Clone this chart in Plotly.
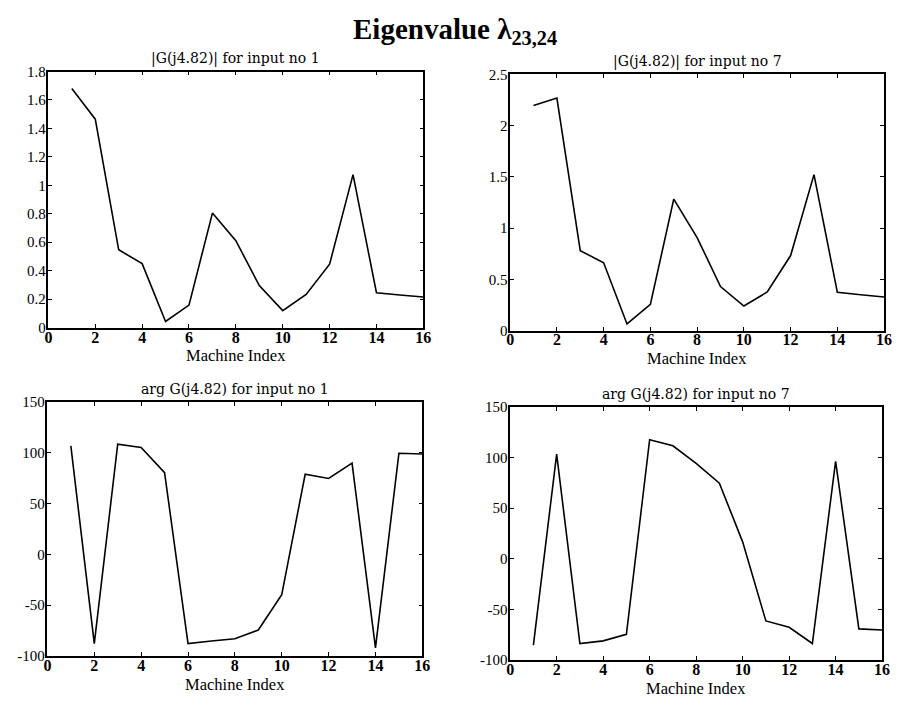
import plotly.graph_objects as go

# Machine indices shared by all four panels
machine_index = list(range(1, 17))

# |G(j4.82)| magnitudes
mag_input1 = [1.68, 1.465, 0.547, 0.45, 0.043, 0.158, 0.805, 0.611,
              0.295, 0.119, 0.233, 0.446, 1.075, 0.245, 0.229, 0.215]
mag_input7 = [2.197, 2.27, 0.78, 0.662, 0.064, 0.255, 1.283, 0.908,
              0.43, 0.239, 0.376, 0.732, 1.522, 0.373, 0.35, 0.328]

# arg G(j4.82) phases in degrees
arg_input1 = [106.7, -87.8, 108.3, 105.1, 80.4, -87.8, -85.3, -83.0,
              -74.4, -39.7, 78.8, 74.7, 89.7, -92.0, 99.4, 98.7]
arg_input7 = [-85.4, 103.2, -83.8, -81.2, -74.8, 117.5, 111.5, 94.0,
              74.5, 16.6, -61.5, -67.8, -83.8, 96.2, -69.4, -70.4]

x_ticks = [0, 2, 4, 6, 8, 10, 12, 14, 16]
mag1_ticks = [0, 0.2, 0.4, 0.6, 0.8, 1, 1.2, 1.4, 1.6, 1.8]
mag1_labels = ["0", "0.2", "0.4", "0.6", "0.8", "1", "1.2", "1.4", "1.6", "1.8"]
mag7_ticks = [0, 0.5, 1, 1.5, 2, 2.5]
mag7_labels = ["0", "0.5", "1", "1.5", "2", "2.5"]
arg_ticks = [-100, -50, 0, 50, 100, 150]
arg_labels = ["-100", "-50", "0", "50", "100", "150"]

panel_titles = ["|G(j4.82)| for input no 1", "|G(j4.82)| for input no 7",
                "arg G(j4.82) for input no 1", "arg G(j4.82) for input no 7"]
x_label = "Machine Index"

W, H = 899, 707
TIMES = "Liberation Serif"
WIDE_SERIF = "DejaVu Serif"

# panel boxes in pixels: (left, right, top, bottom)
boxes = [(45, 425, 65, 327), (513, 892, 68, 330),
         (44, 424, 403, 663), (513, 890, 408, 667)]

panels = [
    (mag_input1, [0, 1.8], mag1_ticks, mag1_labels),
    (mag_input7, [0, 2.5], mag7_ticks, mag7_labels),
    (arg_input1, [-100, 150], arg_ticks, arg_labels),
    (arg_input7, [-100, 150], arg_ticks, arg_labels),
]

fig = go.Figure()
layout = dict(
    width=W, height=H, autosize=False,
    margin=dict(l=0, r=0, t=0, b=0),
    paper_bgcolor="white", plot_bgcolor="white",
    showlegend=False,
    font=dict(family=TIMES, color="black"),
)
annotations = []

for i, ((yvals, yrange, yt, yl), (l, r, t, b), title) in enumerate(zip(panels, boxes, panel_titles)):
    n = "" if i == 0 else str(i + 1)
    xa, ya = "x" + n, "y" + n
    fig.add_trace(go.Scatter(
        x=machine_index, y=yvals, mode="lines",
        line=dict(color="black", width=1.6),
        xaxis=xa, yaxis=ya, hoverinfo="skip",
    ))
    axis_common = dict(
        showline=True, linecolor="black", linewidth=1.5, mirror="ticks",
        ticks="inside", ticklen=4, tickcolor="black", tickwidth=1,
        showgrid=False, zeroline=False,
    )
    layout["xaxis" + n] = dict(
        domain=[l / W, r / W], anchor=ya, range=[0, 16],
        tickmode="array", tickvals=x_ticks,
        tickfont=dict(family=TIMES, size=16, color="black", weight="bold"),
        ticklabelstandoff=-6,
        **axis_common,
    )
    layout["yaxis" + n] = dict(
        domain=[1 - b / H, 1 - t / H], anchor=xa, range=yrange,
        tickmode="array", tickvals=yt, ticktext=yl,
        tickfont=dict(family=TIMES, size=15, color="black"),
        ticklabelstandoff=-2,
        **axis_common,
    )
    # panel title above the box
    annotations.append(dict(
        text=title, x=(l + r) / 2 / W, y=1 - (t - 13) / H,
        xref="paper", yref="paper", xanchor="center", yanchor="middle",
        showarrow=False, font=dict(family=WIDE_SERIF, size=14, color="black"),
    ))
    # x-axis label below the box
    annotations.append(dict(
        text=x_label, x=(l + r) / 2 / W, y=1 - (b + 29) / H,
        xref="paper", yref="paper", xanchor="center", yanchor="middle",
        showarrow=False, font=dict(family=TIMES, size=16.5, color="black"),
    ))

annotations.append(dict(
    text="<b>Eigenvalue λ<sub>23,24</sub></b>", x=457 / W, y=1 - 24 / H,
    xref="paper", yref="paper", xanchor="center", yanchor="middle",
    showarrow=False, font=dict(family=TIMES, size=29, color="black"),
))
layout["annotations"] = annotations
fig.update_layout(**layout)

fig.write_html("out.html")
